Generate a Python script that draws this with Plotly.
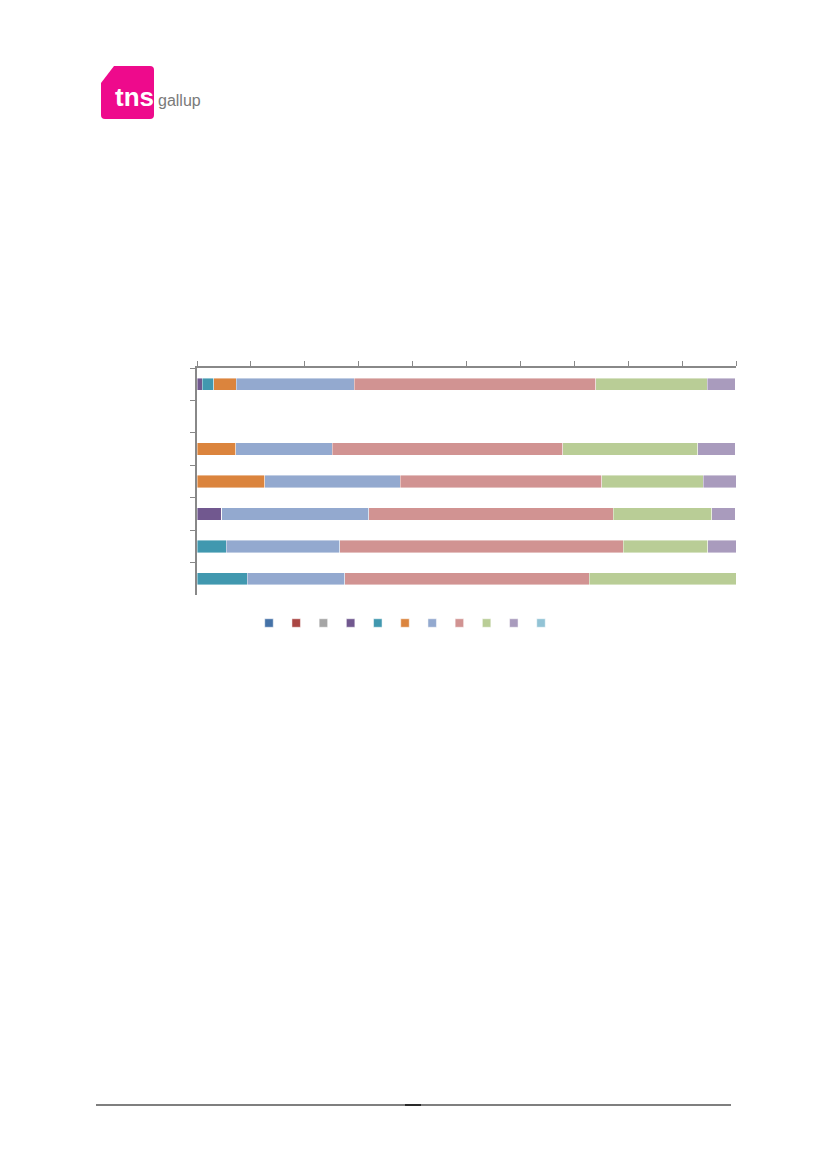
import plotly.graph_objects as go

# ---- data ----
categories = ["Row 1", "Row 2", "Row 3", "Row 4", "Row 5", "Row 6", "Row 7"]
series_colors = ["#4572A7", "#AA4643", "#A5A5A5", "#71588F", "#4198AF", "#DB843D",
                 "#93A9CF", "#D19392", "#B9CD96", "#A99BBD", "#92C3D5"]
s1 = [0, 0, 0, 0, 0, 0, 0]
s2 = [0, 0, 0, 0, 0, 0, 0]
s3 = [0, 0, 0, 0, 0, 0, 0]
s4 = [1.0, 0, 0, 0, 4.6, 0, 0]
s5 = [2.1, 0, 0, 0, 0, 5.4, 9.3]
s6 = [4.2, 0, 7.2, 12.6, 0, 0, 0]
s7 = [21.9, 0, 17.9, 25.1, 27.3, 21.1, 18.1]
s8 = [44.8, 0, 42.8, 37.4, 45.3, 52.6, 45.4]
s9 = [20.7, 0, 25.0, 18.8, 18.3, 15.7, 27.2]
s10 = [5.2, 0, 7.0, 6.2, 4.4, 5.2, 0]
s11 = [0, 0, 0, 0, 0, 0, 0]
series_values = [s1, s2, s3, s4, s5, s6, s7, s8, s9, s10, s11]
legend_index = list(range(len(series_colors)))

O = 8  # default page body margin
W, H = 819, 1161
ML, MR, MT, MB = 197 - O, 91, 368 - O, 529
PW = W - ML - MR
PH = H - MT - MB


def px(x):
    return (x - O - ML) / PW


def py(y):
    return (H - MB - (y - O)) / PH


fig = go.Figure()
for vals, col in zip(series_values, series_colors):
    fig.add_trace(go.Bar(
        y=categories, x=vals, orientation="h", width=0.38,
        marker=dict(color=col, line=dict(width=0.6, color="rgba(255,255,255,0.7)")),
        showlegend=False, hoverinfo="x",
        xaxis="x", yaxis="y"))

# legend keys
fig.add_trace(go.Scatter(
    x=legend_index, y=[0] * len(legend_index), mode="markers",
    marker=dict(symbol="square", size=8.5, color=series_colors,
                line=dict(width=1, color="rgba(255,255,255,0.5)")),
    showlegend=False, hoverinfo="skip", xaxis="x2", yaxis="y2"))

axis_col = "#888888"
fig.update_layout(
    width=W, height=H, autosize=False,
    margin=dict(l=ML, r=MR, t=MT, b=MB),
    paper_bgcolor="white", plot_bgcolor="white",
    barmode="stack",
    showlegend=False,
    xaxis=dict(range=[0, 100], dtick=10, side="top", showticklabels=False,
               ticks="outside", ticklen=5, tickcolor=axis_col, tickwidth=1.2,
               showline=True, linecolor=axis_col, linewidth=1.5,
               showgrid=False, zeroline=False, fixedrange=True,
               domain=[0, 1], anchor="y"),
    yaxis=dict(type="category", autorange="reversed", showticklabels=False,
               ticks="outside", ticklen=5, tickcolor=axis_col, tickwidth=1.2,
               tickson="boundaries",
               showline=True, linecolor=axis_col, linewidth=1.5,
               showgrid=False, zeroline=False, fixedrange=True,
               domain=[py(595), 1], anchor="x"),
    xaxis2=dict(range=[-0.5, 10.5], domain=[px(255.4), px(554.6)],
                visible=False, anchor="y2", fixedrange=True),
    yaxis2=dict(range=[-1, 1], domain=[py(633), py(613)],
                visible=False, anchor="x2", fixedrange=True),
)

# logo
logo_path = (f"M {px(114)},{py(66)} L {px(150)},{py(66)} "
             f"Q {px(154)},{py(66)} {px(154)},{py(70)} "
             f"L {px(154)},{py(115)} Q {px(154)},{py(119)} {px(150)},{py(119)} "
             f"L {px(105)},{py(119)} Q {px(101)},{py(119)} {px(101)},{py(115)} "
             f"L {px(101)},{py(83)} Z")
fig.add_shape(type="path", path=logo_path, xref="paper", yref="paper",
              fillcolor="#EE0A8C", line=dict(width=0))
fig.add_annotation(text="<b>tns</b>", x=px(113), y=py(97), xref="paper", yref="paper",
                   xanchor="left", yanchor="middle", showarrow=False,
                   font=dict(family="Liberation Sans, Arial", size=26, color="white"))
fig.add_annotation(text="gallup", x=px(156), y=py(100), xref="paper", yref="paper",
                   xanchor="left", yanchor="middle", showarrow=False,
                   font=dict(family="Liberation Sans, Arial", size=16, color="#7a7a7a"))

# footer rule
fig.add_shape(type="line", xref="paper", yref="paper",
              x0=px(96), x1=px(731), y0=py(1105), y1=py(1105),
              line=dict(color="#555555", width=1.5))
fig.add_shape(type="line", xref="paper", yref="paper",
              x0=px(405), x1=px(421), y0=py(1105), y1=py(1105),
              line=dict(color="#2a2a2a", width=2))

fig.write_html("out.html")
